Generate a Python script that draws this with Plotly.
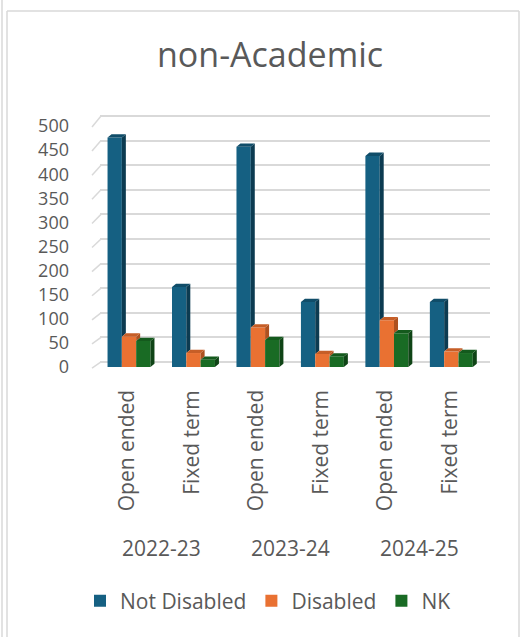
import plotly.graph_objects as go

years = ["2022-23", "2023-24", "2024-25"]
contract_types = ["Open ended", "Fixed term", "Open ended", "Fixed term", "Open ended", "Fixed term"]
series_names = ["Not Disabled", "Disabled", "NK"]
not_disabled = [476, 166, 457, 135, 438, 135]
disabled = [63, 29, 82, 27, 97, 32]
nk = [54, 15, 56, 22, 70, 29]
y_ticks = [0, 50, 100, 150, 200, 250, 300, 350, 400, 450, 500]

# colours: front face, side face, top face
COLORS = [
    ("#156082", "#0c3b51", "#104d69"),
    ("#e97132", "#ad5120", "#c65e27"),
    ("#196b24", "#0f4416", "#145a1d"),
]
TEXT = "#595959"
GRID = "#d9d9d9"
FONT = "Open Sans"

W, H = 526, 637
L, R, T, B = 100, 36, 110, 267
PW, PH = W - L - R, H - T - B

X_RANGE = [-0.45, 5.6]
Y_RANGE = [-6.2, 533.2]     # front plane (bars, tick labels)
Y2_RANGE = [-16.3, 512.2]   # back wall (gridlines)
BAR_W = 0.222
DX = 0.062
DY = 6.8

all_vals = [not_disabled, disabled, nk]
xs = list(range(len(contract_types)))

fig = go.Figure()

for k, (name, vals) in enumerate(zip(series_names, all_vals)):
    front, side, top = COLORS[k]
    offset = -1.5 * BAR_W + k * BAR_W
    fig.add_trace(go.Bar(
        x=xs, y=vals, width=BAR_W, offset=offset, name=name,
        marker=dict(color=front, line=dict(width=0)),
    ))

# 3D look: side and top faces of every bar
for k, vals in enumerate(all_vals):
    front, side, top = COLORS[k]
    offset = -1.5 * BAR_W + k * BAR_W
    nxt = all_vals[k + 1] if k < 2 else [0] * len(vals)
    sx, sy, tx, ty = [], [], [], []
    for i, v in enumerate(vals):
        xl = xs[i] + offset
        xr = xl + BAR_W
        base = nxt[i] if k < 2 else 0
        if base < v:
            sx += [xr, xr + DX, xr + DX, xr, xr, None]
            sy += [base, base + DY, v + DY, v, base, None]
        if k < 2 and nxt[i] > v + DY:
            tx += [xl, xr, xr, xl + DX, xl, None]
        else:
            tx += [xl, xr, xr + DX, xl + DX, xl, None]
        ty += [v, v, v + DY, v + DY, v, None]
    fig.add_trace(go.Scatter(x=sx, y=sy, mode="lines", fill="toself", fillcolor=side,
                             line=dict(width=0, color=side), showlegend=False, hoverinfo="skip"))
    fig.add_trace(go.Scatter(x=tx, y=ty, mode="lines", fill="toself", fillcolor=top,
                             line=dict(width=0, color=top), showlegend=False, hoverinfo="skip"))


def px_to_paper_x(px):
    return (px - L) / PW


def px_to_paper_y(py):
    return (H - B - py) / PH


def y_front_px(v):
    return T + PH - (v - Y_RANGE[0]) / (Y_RANGE[1] - Y_RANGE[0]) * PH


def y_back_px(v):
    return T + PH - (v - Y2_RANGE[0]) / (Y2_RANGE[1] - Y2_RANGE[0]) * PH


shapes = []
# side wall of the 3D box
for t in y_ticks:
    shapes.append(dict(type="line", xref="paper", yref="paper",
                       x0=px_to_paper_x(92), y0=px_to_paper_y(y_front_px(t) + 1),
                       x1=px_to_paper_x(101), y1=px_to_paper_y(y_back_px(t)),
                       line=dict(color=GRID, width=1.5), layer="below"))
# chart frame
for x0, y0, x1, y1 in [(7, 11, 519, 11), (7, 11, 7, 640), (519, 11, 519, 640), (2, 0, 2, 640)]:
    shapes.append(dict(type="line", xref="paper", yref="paper",
                       x0=px_to_paper_x(x0), y0=px_to_paper_y(y0),
                       x1=px_to_paper_x(x1), y1=px_to_paper_y(y1),
                       line=dict(color=GRID, width=1.5)))

annotations = []
for i, ct in enumerate(contract_types):
    annotations.append(dict(x=xs[i] - 0.05, xref="x", y=px_to_paper_y(388), yref="paper",
                            text=ct, showarrow=False, textangle=-90, yanchor="top",
                            xanchor="center", font=dict(family=FONT, size=21, color=TEXT)))
for j, yr in enumerate(years):
    annotations.append(dict(x=2 * j + 0.5, xref="x", y=px_to_paper_y(548), yref="paper",
                            text=yr, showarrow=False, yanchor="middle",
                            font=dict(family=FONT, size=21, color=TEXT)))

fig.update_layout(
    width=W, height=H,
    margin=dict(l=L, r=R, t=T, b=B),
    paper_bgcolor="white", plot_bgcolor="white",
    barmode="overlay",
    title=dict(text="non-Academic", x=270 / W, xanchor="center", y=1 - 55 / H, yanchor="middle",
               font=dict(family=FONT, size=34, color=TEXT)),
    xaxis=dict(range=X_RANGE, showticklabels=False, showgrid=False, zeroline=False, showline=False),
    yaxis=dict(range=Y_RANGE, tickvals=y_ticks, showgrid=False, zeroline=False, showline=False,
               ticklabelstandoff=30, tickfont=dict(family=FONT, size=18, color=TEXT)),
    yaxis2=dict(range=Y2_RANGE, overlaying="y", tickvals=y_ticks, showticklabels=False,
                showgrid=True, gridcolor=GRID, gridwidth=1.5, zeroline=False, showline=False),
    legend=dict(orientation="h", xref="container", yref="container", x=268 / W, xanchor="center",
                y=1 - 601 / H, yanchor="middle", font=dict(family=FONT, size=21, color=TEXT),
                itemwidth=30, traceorder="normal"),
    shapes=shapes,
    annotations=annotations,
    showlegend=True,
)

# an invisible trace so the back-wall axis gets drawn
fig.add_trace(go.Scatter(x=[None], y=[None], yaxis="y2", showlegend=False, hoverinfo="skip"))

fig.write_html("out.html", config={"displayModeBar": False},
               post_script="document.body.style.margin = '0';")
